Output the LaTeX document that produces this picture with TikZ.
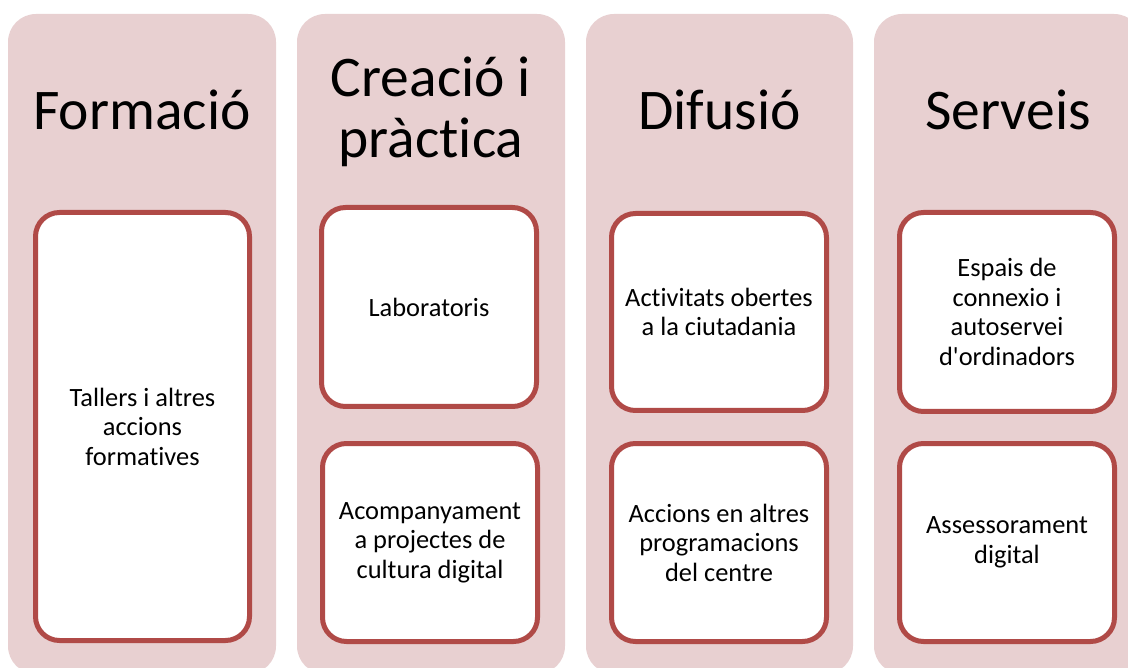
\documentclass[tikz,border=0pt]{standalone}
\usepackage{fontspec}
\setmainfont{Carlito}[Ligatures=CommonOff]
\definecolor{colbg}{RGB}{232,208,209}
\definecolor{boxline}{RGB}{176,74,71}
\begin{document}
\begin{tikzpicture}[x=1pt,y=-1pt,
  colbox/.style={fill=colbg, rounded corners=28pt},
  inbox/.style={draw=boxline, fill=white, line width=5pt, rounded corners=24pt,
    minimum width=215pt, minimum height=199pt, inner sep=0pt, align=center,
    font=\fontsize{26.4}{29.5}\selectfont},
  title/.style={font=\fontsize{57.5}{61}\selectfont, align=center, inner sep=0pt, anchor=base}]
\useasboundingbox (0,0) rectangle (1128,668);
\clip (0,0) rectangle (1128,668);
\fill[white] (0,0) rectangle (1128,668);
% columns
\path[colbox] (8,14) rectangle (276,674);
\path[colbox] (297,14) rectangle (565,674);
\path[colbox] (586,14) rectangle (853,674);
\path[colbox] (874,14) rectangle (1142,674);
% titles
\node[title] (t1) at (142,130) {Formació};
\node[title] (t2) at (431,158) {Creació i\\pràctica};
\node[title] (t3) at (719.5,130) {Difusió};
\node[title] (t4) at (1008,130) {Serveis};
% boxes
\node[inbox, minimum width=214pt, minimum height=428pt] (b1) at (142.5,426.5) {Tallers i altres\\accions\\formatives};
\node[inbox] (c1) at (429,307) {Laboratoris};
\node[inbox, minimum height=198pt] (c2) at (430,542.5) {Acompanyament\\a projectes de\\cultura digital};
\node[inbox, minimum height=197pt] (d1) at (719,312) {Activitats obertes\\a la ciutadania};
\node[inbox, minimum height=198pt] (d2) at (719,542.5) {Accions en altres\\programacions\\del centre};
\node[inbox] (e1) at (1007,312) {Espais de\\connexio i\\autoservei\\d\textquotesingle ordinadors};
\node[inbox, minimum height=198pt] (e2) at (1007,542.5) {Assessorament\\digital};
\end{tikzpicture}
\end{document}
